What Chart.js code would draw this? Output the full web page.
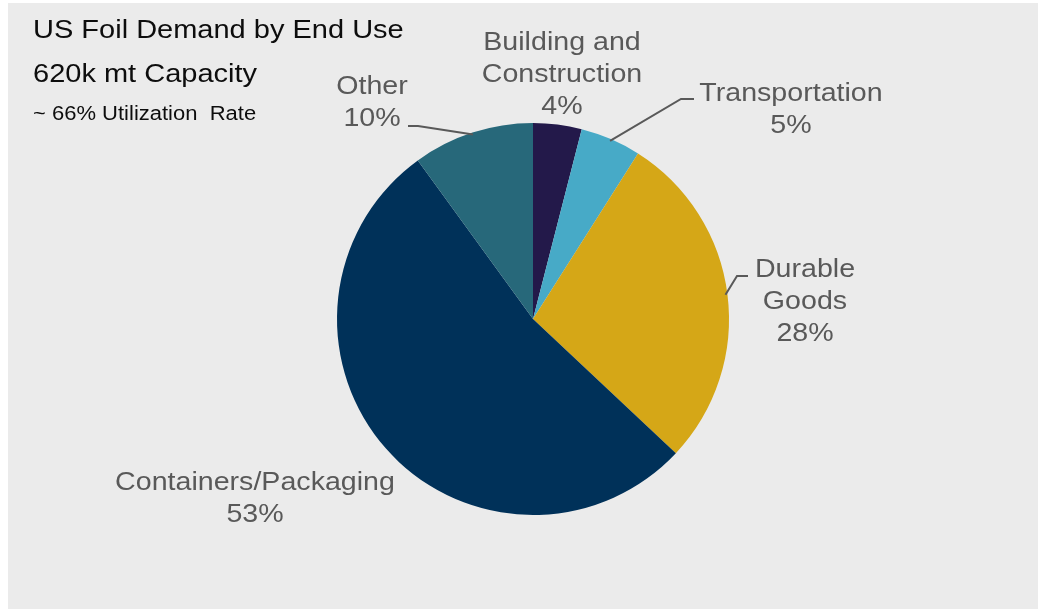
<!DOCTYPE html>
<html>
<head>
<meta charset="utf-8">
<script src="https://cdn.jsdelivr.net/npm/chart.js@4"></script>
<style>
  html, body { margin: 0; padding: 0; background: #ffffff; }
  #wrap { width: 1038px; height: 609px; }
</style>
</head>
<body>
<div id="wrap"><canvas id="grafico" width="1038" height="609"></canvas></div>
<script>
// end-use categories, clockwise from 12 o'clock
const categorias = [['Building and', 'Construction'], ['Transportation'], ['Durable', 'Goods'], ['Containers/Packaging'], ['Other']];
const percentuais = [4, 5, 28, 53, 10];
const cores = ['#23194a', '#47aac7', '#d5a717', '#003159', '#27687a'];

const titulo = 'US Foil Demand by End Use';
const subtitulo = '620k mt Capacity';
const nota = '~ 66% Utilization  Rate';

// where each label block sits and the elbow of its leader line
const posRotulos = [
	{ x: 562, y: 50, linha: null },
	{ x: 791, y: 101, linha: [[694, 99], [681, 99]] },
	{ x: 805, y: 277, linha: [[748, 276], [737, 276]] },
	{ x: 255, y: 490, linha: null },
	{ x: 372, y: 94, linha: [[408, 126], [418, 126]] }
];

function textoEsticado(ctx, txt, x, y, sx, align) {
	ctx.save();
	ctx.translate(x, y);
	ctx.scale(sx, 1);
	ctx.textAlign = align;
	ctx.fillText(txt, 0, 0);
	ctx.restore();
}

const fundo = {
	id: 'fundo',
	beforeDraw(chart) {
		const ctx = chart.ctx;
		ctx.save();
		ctx.fillStyle = '#ebebeb';
		ctx.fillRect(8, 3, chart.width - 8, chart.height - 3);
		ctx.restore();
	}
};

const rotulos = {
	id: 'rotulos',
	afterDraw(chart) {
		const ctx = chart.ctx;
		const arcos = chart.getDatasetMeta(0).data;
		ctx.save();
		ctx.textBaseline = 'alphabetic';

		// title block
		ctx.fillStyle = '#0d0d0d';
		ctx.font = '25px "Liberation Sans", Arial, sans-serif';
		textoEsticado(ctx, titulo, 33, 38, 1.16, 'left');
		textoEsticado(ctx, subtitulo, 33, 82, 1.16, 'left');
		ctx.font = '20px "Liberation Sans", Arial, sans-serif';
		textoEsticado(ctx, nota, 33, 120, 1.1, 'left');

		// category labels
		ctx.fillStyle = '#595959';
		ctx.strokeStyle = '#595959';
		ctx.lineWidth = 2;
		ctx.font = '26px "Liberation Sans", Arial, sans-serif';
		arcos.forEach((arco, i) => {
			const p = posRotulos[i];
			const linhas = categorias[i].concat([percentuais[i] + '%']);
			linhas.forEach((t, k) => textoEsticado(ctx, t, p.x, p.y + k * 32, 1.1, 'center'));
			if (p.linha) {
				const a = (arco.startAngle + arco.endAngle) / 2;
				const r = arco.outerRadius - 2;
				ctx.beginPath();
				ctx.moveTo(p.linha[0][0], p.linha[0][1]);
				ctx.lineTo(p.linha[1][0], p.linha[1][1]);
				ctx.lineTo(arco.x + Math.cos(a) * r, arco.y + Math.sin(a) * r);
				ctx.stroke();
			}
		});
		ctx.restore();
	}
};

const ctx = document.getElementById('grafico').getContext('2d');
const chart = new Chart(ctx, {
	type: 'pie',
	data: {
		labels: categorias,
		datasets: [{
			data: percentuais,
			backgroundColor: cores,
			borderWidth: 0
		}]
	},
	options: {
		responsive: false,
		animation: false,
		layout: { padding: { left: 337, right: 309, top: 123, bottom: 94 } },
		plugins: {
			legend: { display: false },
			tooltip: { enabled: false }
		}
	},
	plugins: [fundo, rotulos]
});
</script>
</body>
</html>
